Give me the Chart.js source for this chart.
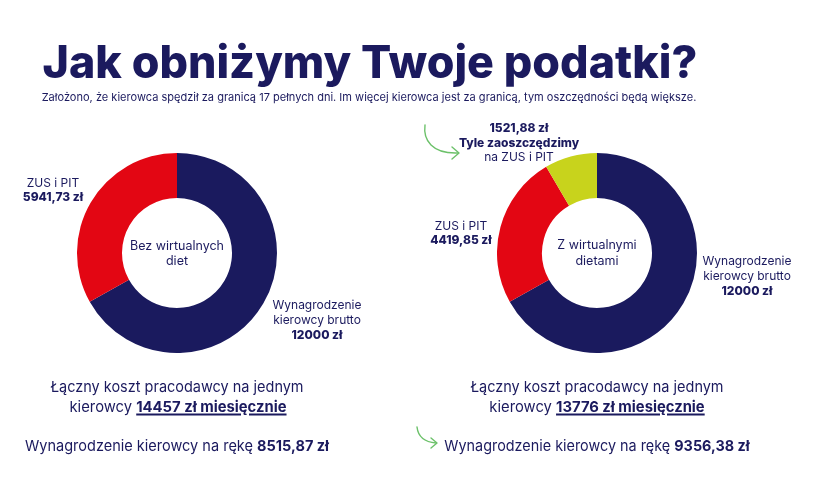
<!DOCTYPE html>
<html><head><meta charset="utf-8">
<script src="https://cdn.jsdelivr.net/npm/chart.js@4"></script>
<style>
html,body{margin:0;padding:0;background:#fff;}
#stage{position:relative;width:840px;height:480px;overflow:hidden;font-family:Inter,"Noto Sans",sans-serif;color:#1b1a5e;}
.t{position:absolute;white-space:nowrap;line-height:1;transform-origin:center center;}
.b{font-weight:700;}
.u{text-decoration:underline;text-decoration-thickness:1.5px;text-underline-offset:2px;}
canvas{position:absolute;}
svg{position:absolute;left:0;top:0;}
</style></head>
<body><div id="stage">
<canvas id="c1" width="200" height="200" style="left:77px;top:153px;width:200px;height:200px"></canvas>
<canvas id="c2" width="200" height="200" style="left:497px;top:153px;width:200px;height:200px"></canvas>
<svg width="840" height="480" viewBox="0 0 840 480">
  <g fill="none" stroke="#6cc16a" stroke-width="1.4" stroke-linecap="round" stroke-linejoin="round">
    <path d="M425 125 C423 140 432 154 458 153"/>
    <path d="M452 147 L459 153 L452 159"/>
    <path d="M417 427 C418 436 424 442 436 443"/>
    <path d="M431 438 L437 443 L431 448"/>
  </g>
</svg>
</div>
<script>
// ---- data ----
const categories = ['Wynagrodzenie kierowcy brutto', 'ZUS i PIT', 'Tyle zaoszczędzimy na ZUS i PIT'];
const withoutDiets = [12000, 5941.73];
const withDiets = [12000, 4419.85, 1521.88];
const employerCost = [14457, 13776];
const netPay = [8515.87, 9356.38];
const sliceColors = ['#1a1a5e', '#e30613', '#c8d31c'];

function fmt(v){ return Number.isInteger(v) ? String(v) : v.toFixed(2).replace('.', ','); }

const common = {
  type: 'doughnut',
  options: {
    responsive: false, maintainAspectRatio: false, animation: false,
    cutout: '55%', layout: {padding: 0},
    events: [],
    plugins: {legend: {display: false}, tooltip: {enabled: false}}
  }
};
new Chart(document.getElementById('c1'), Object.assign({}, common, {
  data: {labels: categories.slice(0, 2), datasets: [{data: withoutDiets, backgroundColor: sliceColors.slice(0, 2), borderWidth: 0}]}
}));
new Chart(document.getElementById('c2'), Object.assign({}, common, {
  data: {labels: categories, datasets: [{data: withDiets, backgroundColor: sliceColors, borderWidth: 0}]}
}));

// ---- text ----
const stage = document.getElementById('stage');
// [html, centerX, centerY, fontSize, targetWidth (or 0 for natural), weight]
const lines = [
  ['Jak obniżymy Twoje podatki?', 370, 61, 45, 655, 800],
  ['Założono, że kierowca spędził za granicą 17 pełnych dni. Im więcej kierowca jest za granicą, tym oszczędności będą większe.', 369, 97, 11, 655, 400],
  ['ZUS i PIT', 53, 183, 12, 0, 400],
  [fmt(withoutDiets[1]) + ' zł', 53, 197, 12, 0, 800],
  ['Bez wirtualnych', 177, 246, 12.5, 0, 400],
  ['diet', 177, 261, 12.5, 0, 400],
  ['Wynagrodzenie', 317, 305, 12, 0, 400],
  ['kierowcy brutto', 317, 320, 12, 0, 400],
  [fmt(withoutDiets[0]) + ' zł', 317, 335, 12, 0, 800],
  [fmt(withDiets[2]) + ' zł', 519, 128, 12, 0, 800],
  ['Tyle zaoszczędzimy', 519, 143, 12, 0, 800],
  ['na ZUS i PIT', 519, 157, 12, 0, 400],
  ['ZUS i PIT', 461, 226, 12, 0, 400],
  [fmt(withDiets[1]) + ' zł', 461, 240, 12, 0, 800],
  ['Z wirtualnymi', 597, 245, 12.5, 0, 400],
  ['dietami', 597, 261, 12.5, 0, 400],
  ['Wynagrodzenie', 747, 261, 12, 0, 400],
  ['kierowcy brutto', 747, 276, 12, 0, 400],
  [fmt(withDiets[0]) + ' zł', 747, 291, 12, 0, 800],
  ['Łączny koszt pracodawcy na jednym', 177, 386, 15, 253, 400],
  ['kierowcy <span class="b u">' + fmt(employerCost[0]) + ' zł miesięcznie</span>', 178, 406, 15, 217, 400],
  ['Wynagrodzenie kierowcy na rękę <span class="b">' + fmt(netPay[0]) + ' zł</span>', 177, 445, 15, 304, 400],
  ['Łączny koszt pracodawcy na jednym', 597, 386, 15, 253, 400],
  ['kierowcy <span class="b u">' + fmt(employerCost[1]) + ' zł miesięcznie</span>', 597, 406, 15, 215, 400],
  ['Wynagrodzenie kierowcy na rękę <span class="b">' + fmt(netPay[1]) + ' zł</span>', 597, 445, 15, 305, 400]
];
const els = lines.map(([html, cx, cy, fs, w, fw]) => {
  const d = document.createElement('div');
  d.className = 't';
  d.innerHTML = html;
  d.style.fontSize = fs + 'px';
  d.style.fontWeight = fw;
  d.style.left = cx + 'px';
  d.style.top = cy + 'px';
  stage.appendChild(d);
  return [d, w];
});
function layout(){
  els.forEach(([d, w]) => {
    const nw = d.offsetWidth;
    const s = w ? w / nw : 1;
    d.style.transform = 'translate(-50%,-50%) scaleX(' + s + ')';
  });
}
layout();
if (document.fonts && document.fonts.ready) document.fonts.ready.then(layout);
</script>
</body></html>
